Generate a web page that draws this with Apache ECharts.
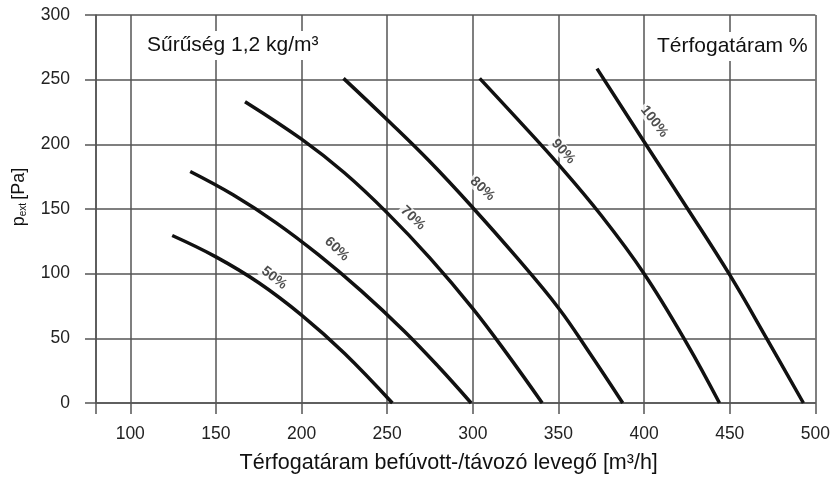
<!DOCTYPE html>
<html>
<head>
<meta charset="utf-8">
<title>Térfogatáram</title>
<script src="https://cdn.jsdelivr.net/npm/echarts@6/dist/echarts.min.js"></script>
<style>
  html, body { margin: 0; padding: 0; background: #fff; }
  #chart { width: 833px; height: 481px; }
</style>
</head>
<body>
<div id="chart"></div>
<script>
// tick values
const xTicks = [80, 100, 150, 200, 250, 300, 350, 400, 450, 500]
const xLabels = [100, 150, 200, 250, 300, 350, 400, 450, 500]

// curves: [m3/h, Pa]
const curveNames = ['50%', '60%', '70%', '80%', '90%', '100%']
const curve50 = [[124.5, 129.5], [150, 113], [175, 93], [200, 68], [225, 38.5], [253, 0]]
const curve60 = [[135, 179], [160, 161], [185, 139.5], [210, 114.5], [235, 86.5], [260, 55.5], [280, 28], [299, 0]]
const curve70 = [[167, 233], [200, 204], [225, 178], [250, 147], [275, 112], [300, 73], [320, 38], [340.5, 0]]
const curve80 = [[224.5, 251], [250, 219], [275, 186.5], [300, 151], [325, 113.5], [350, 73.5], [368, 39], [387.5, 0]]
const curve90 = [[304, 251], [325, 221], [350, 184.5], [375, 145], [400, 100], [425, 46], [444, 0]]
const curve100 = [[372.5, 258.5], [400, 202], [425, 151], [450, 99], [471.5, 50], [493, 0]]
const curves = [curve50, curve60, curve70, curve80, curve90, curve100]

// where the % labels sit, and their slant
const labelPos = [[184, 96.6], [220.6, 119], [265, 143], [305.6, 165.6], [352.8, 194.4], [405.9, 217.6]]
const labelAngle = [-38, -43, -43, -43, -48, -52]

const chart = echarts.init(document.getElementById('chart'))

const font = 'Liberation Sans, Arial, Helvetica, sans-serif'
const gridLine = { color: '#555', width: 1.5 }

const series = curves.map((c, i) => ({
  name: curveNames[i],
  type: 'line',
  data: c,
  smooth: 0.4,
  showSymbol: false,
  lineStyle: { color: '#111', width: 3.5 },
  z: 3
}))

series.push({
  type: 'scatter',
  symbolSize: 0,
  silent: true,
  z: 5,
  data: labelPos.map((p, i) => ({
    value: p,
    label: { formatter: curveNames[i], rotate: labelAngle[i] }
  })),
  label: {
    show: true,
    position: 'inside',
    color: '#222',
    fontSize: 14,
    fontWeight: 'bold',
    fontFamily: font,
    backgroundColor: '#fff',
    padding: [0, 2]
  }
})

chart.setOption({
  animation: false,
  textStyle: { fontFamily: font },
  title: [
    {
      text: 'Sűrűség 1,2 kg/m³',
      left: 141,
      top: 31,
      backgroundColor: '#fff',
      padding: [4, 6],
      textStyle: { fontSize: 21, fontWeight: 'normal', color: '#111', fontFamily: font }
    },
    {
      text: 'Térfogatáram %',
      left: 651,
      top: 32,
      backgroundColor: '#fff',
      padding: [4, 6],
      textStyle: { fontSize: 21, fontWeight: 'normal', color: '#111', fontFamily: font }
    }
  ],
  grid: { left: 96, right: 11, top: 15, bottom: 78 },
  xAxis: {
    type: 'value',
    min: 80,
    max: 500,
    name: 'Térfogatáram befúvott-/távozó levegő [m³/h]',
    nameLocation: 'middle',
    nameGap: 49,
    nameTextStyle: { fontSize: 21.5, color: '#111', padding: [0, 14, 0, 0] },
    axisLine: { show: true, lineStyle: gridLine },
    axisTick: { show: true, length: 11, customValues: xTicks, lineStyle: gridLine },
    axisLabel: { customValues: xLabels, fontSize: 17.5, color: '#222', margin: 22 },
    splitLine: { show: true, lineStyle: gridLine }
  },
  yAxis: {
    type: 'value',
    min: 0,
    max: 300,
    interval: 50,
    name: '{a|p}{b|ext} {a|[Pa]}',
    nameLocation: 'middle',
    nameRotate: 90,
    nameGap: 68,
    nameTextStyle: {
      padding: [0, 0, 0, 24],
      rich: {
        a: { fontSize: 18, color: '#111', fontFamily: font },
        b: { fontSize: 10, color: '#111', fontFamily: font, padding: [8, 0, 0, 0] }
      }
    },
    axisLine: { show: true, lineStyle: gridLine },
    axisTick: { show: true, length: 11, lineStyle: gridLine },
    axisLabel: { fontSize: 17.5, color: '#222', margin: 26 },
    splitLine: { show: true, lineStyle: gridLine }
  },
  series: series
})
</script>
</body>
</html>
